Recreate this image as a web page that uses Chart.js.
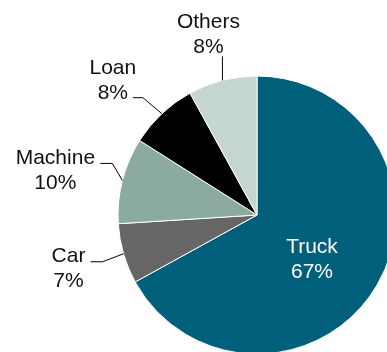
<!DOCTYPE html>
<html>
<head>
<meta charset="utf-8">
<script src="https://cdn.jsdelivr.net/npm/chart.js@4.4.0/dist/chart.umd.min.js"></script>
<style>
  html, body { margin: 0; padding: 0; background: #fff; overflow: hidden; }
  #wrap { width: 387px; height: 352px; position: relative; }
</style>
</head>
<body>
<div id="wrap"><canvas id="myChart" width="387" height="352"></canvas></div>
<script>
// 데이터
const categories = ['Truck', 'Car', 'Machine', 'Loan', 'Others'];
const shares = [67, 7, 10, 8, 8];
const sliceColors = ['#005f7a', '#666666', '#8aab9e', '#000000', '#c5d5d0'];

// 라벨 배치 (조각 바깥 끝점 기준 오프셋)
const labelLayout = {
    Truck:   { inside: [55, 44] },
    Car:     { elbow: [-21, 8],  end: -12, text: [-22, 5.5] },
    Machine: { elbow: [-10, -17], end: -12, text: [-45, 6.5] },
    Loan:    { elbow: [-19, -16], end: -10, text: [-20, -17.5] },
    Others:  { elbow: [0, -24],  end: 0,   text: [-14, -23] }
};

const FONT = '21px "Liberation Sans", Arial, sans-serif';
const LINE_H = 25;

// 조각마다 이름과 퍼센트를 그려주는 플러그인
const pieLabels = {
    id: 'pieLabels',
    afterDraw(chart) {
        const ctx = chart.ctx;
        const meta = chart.getDatasetMeta(0);
        ctx.save();
        ctx.font = FONT;
        ctx.textAlign = 'center';
        ctx.textBaseline = 'middle';
        meta.data.forEach((arc, i) => {
            const name = categories[i];
            const lay = labelLayout[name];
            const mid = (arc.startAngle + arc.endAngle) / 2;
            const cx = arc.x, cy = arc.y, R = arc.outerRadius;
            const txt = [name, shares[i] + '%'];
            if (lay.inside) {
                const tx = cx + lay.inside[0];
                const ty = cy + lay.inside[1];
                ctx.fillStyle = '#ffffff';
                ctx.fillText(txt[0], tx, ty - LINE_H / 2 + 1);
                ctx.fillText(txt[1], tx, ty + LINE_H / 2 + 1);
                return;
            }
            const ax = cx + Math.cos(mid) * R;
            const ay = cy + Math.sin(mid) * R;
            const ex = ax + lay.elbow[0], ey = ay + lay.elbow[1];
            ctx.strokeStyle = '#000000';
            ctx.lineWidth = 1;
            ctx.beginPath();
            ctx.moveTo(ax, ay);
            ctx.lineTo(ex, ey);
            if (lay.end) ctx.lineTo(ex + lay.end, ey);
            ctx.stroke();

            // 텍스트 블록 중심
            const tx = ex + lay.end + lay.text[0];
            const ty = ey + lay.text[1];
            ctx.fillStyle = '#111111';
            ctx.fillText(txt[0], tx, ty - LINE_H / 2 + 1);
            ctx.fillText(txt[1], tx, ty + LINE_H / 2 + 1);
        });
        ctx.restore();
    }
};

const ctx = document.getElementById('myChart').getContext('2d');
const chart = new Chart(ctx, {
    type: 'pie',
    data: {
        labels: categories,
        datasets: [{
            data: shares,
            backgroundColor: sliceColors,
            borderColor: '#ffffff',
            borderWidth: 1
        }]
    },
    options: {
        responsive: false,
        animation: false,
        radius: 139,
        layout: { padding: { left: 127, right: 0, top: 78, bottom: 0 } },
        plugins: {
            legend: { display: false },
            tooltip: { enabled: false }
        }
    },
    plugins: [pieLabels]
});
</script>
</body>
</html>
